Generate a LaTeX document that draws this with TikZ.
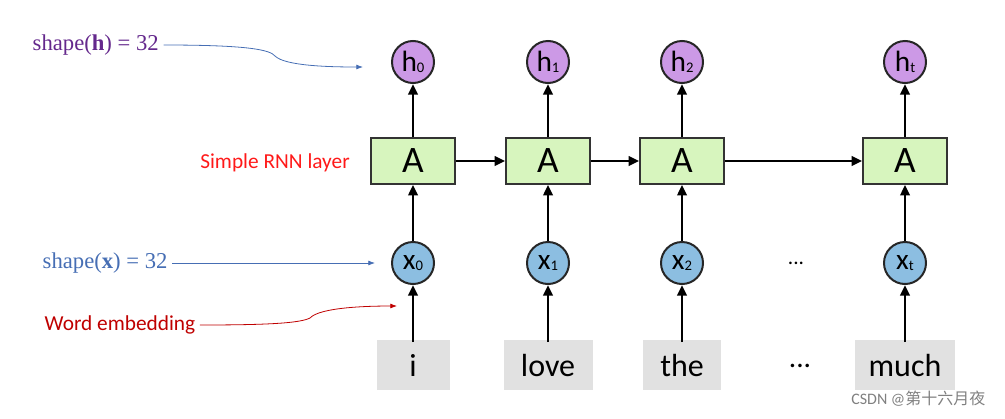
\documentclass[tikz,border=0pt]{standalone}
\usepackage{fontspec}
\setmainfont{Liberation Serif}
\newfontfamily\sans{Carlito}
\newfontfamily\cjk{Noto Sans CJK SC}
\usetikzlibrary{arrows.meta}
\definecolor{hpur}{RGB}{204,153,230}
\definecolor{xblu}{RGB}{140,190,225}
\definecolor{agrn}{RGB}{215,245,190}
\definecolor{wgry}{RGB}{225,225,225}
\definecolor{lpur}{RGB}{100,40,140}
\definecolor{lblu}{RGB}{70,110,180}
\begin{document}
\begin{tikzpicture}[x=0.75pt,y=-0.75pt,
 hn/.style={circle,draw=black!85,line width=1.5pt,fill=hpur,minimum size=42*0.75pt,inner sep=0pt,font=\sans\fontsize{22}{22}\selectfont},
 xn/.style={hn,fill=xblu},
 an/.style={draw=black!80,line width=1.2pt,fill=agrn,minimum width=84*0.75pt,minimum height=46*0.75pt,font=\sans\fontsize{28}{28}\selectfont},
 wn/.style={fill=wgry,minimum height=50*0.75pt,font=\sans\fontsize{24}{24}\selectfont},
 ar/.style={line width=2pt,-{Triangle[length=8pt,width=7pt]}},
 note/.style={-{Latex[length=5pt]},line width=0.6pt}]
\useasboundingbox (0,0) rectangle (1005,418);
\foreach \i/\x/\s/\w/\ww in {0/413/0/i/73,1/548/1/love/89,2/682/2/the/78,3/905/t/much/100}{
 \node[hn] (h\i) at (\x,62) {h\raisebox{-0.1ex}{\fontsize{11}{11}\selectfont\s}};
 \node[an] (a\i) at (\x,161) {A};
 \node[xn] (x\i) at (\x,263) {x\raisebox{-0.1ex}{\fontsize{11}{11}\selectfont\s}};
 \node[wn,minimum width=\ww*0.75pt] (w\i) at (\x,365) {\w};
 \coordinate (b\i) at (\x,342);
 \draw[ar] (b\i) -- (x\i);
 \draw[ar] (x\i) -- (a\i);
 \draw[ar] (a\i) -- (h\i);
}
\draw[ar] (a0) -- (a1);
\draw[ar] (a1) -- (a2);
\draw[ar] (a2) -- (a3);
\node[font=\sans\fontsize{16}{16}\selectfont] (d1) at (796,263) {...};
\node[font=\sans\fontsize{22}{22}\selectfont] (d2) at (800,366) {...};
\node[text=lpur,font=\fontsize{17}{17}\selectfont,anchor=west] (sh) at (28,45) {shape(\textbf{h}) = 32};
\node[text=lblu,font=\fontsize{17}{17}\selectfont,anchor=west] (sx) at (38,263) {shape(\textbf{x}) = 32};
\node[text=red!90,font=\sans\fontsize{16}{16}\selectfont] (sr) at (275,163) {Simple RNN layer};
\node[text=red!75!black,font=\sans\fontsize{16}{16}\selectfont,anchor=west] (we) at (40,325) {Word embedding};
\coordinate (th) at (363,67);
\coordinate (tx) at (375,263);
\coordinate (tw) at (397,306);
\draw[note,lblu] (sh.east) .. controls (250,45) and (270,50) .. (275,56) .. controls (285,66) and (330,67) .. (th);
\draw[note,lblu] (sx.east) -- (tx);
\draw[note,red!75!black] (we.east) .. controls (270,325) and (300,323) .. (310,318) .. controls (320,307) and (370,306) .. (tw);
\node[text=gray,font=\sans\fontsize{12}{12}\selectfont,anchor=east] (wm) at (990,399) {CSDN @{\cjk 第十六月夜}};
\end{tikzpicture}
\end{document}
